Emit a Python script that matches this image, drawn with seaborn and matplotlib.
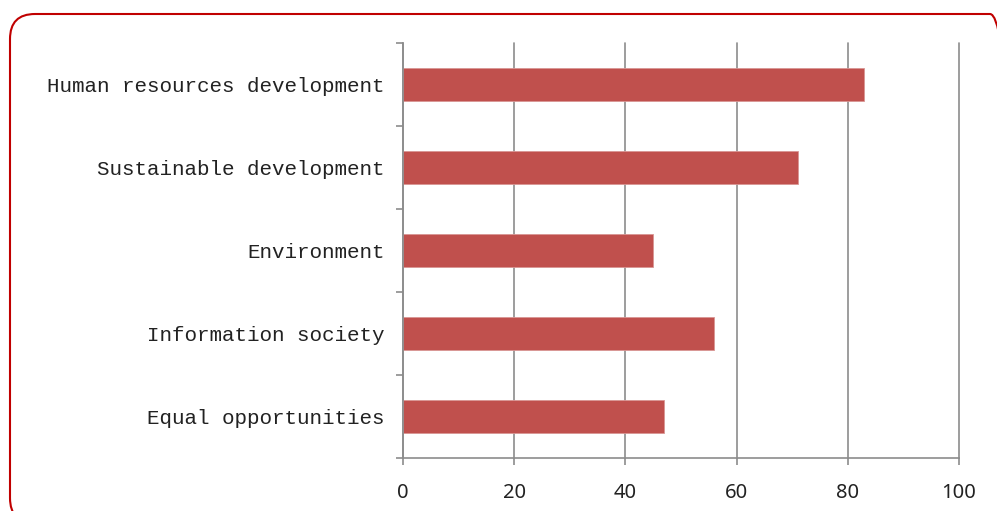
import matplotlib
matplotlib.use('Agg')
import pandas as pd
import seaborn as sns
import matplotlib.pyplot as plt
from matplotlib.patches import FancyBboxPatch

categories = ['Human resources development', 'Sustainable development', 'Environment',
              'Information society', 'Equal opportunities']
values = [83, 71, 45, 56, 47]
x_ticks = [0, 20, 40, 60, 80, 100]

df = pd.DataFrame({'area': categories, 'value': values})

sns.set_style('white')
grey = '#8c8c8c'

fig = plt.figure(figsize=(9.97, 5.11), dpi=100)
ax = fig.add_axes([0.4042, 0.1037, 0.9619 - 0.4042, 0.9159 - 0.1037])

sns.barplot(data=df, y='area', x='value', orient='h', color='#C0504D',
            width=0.4, saturation=1, edgecolor='#d99694', linewidth=0.6, ax=ax)

ax.set_xlim(0, 100)
ax.set_ylim(len(categories) - 0.5, -0.5)
ax.set_xticks(x_ticks)
ax.set_xticklabels([str(t) for t in x_ticks], fontsize=14.5, color='#222222',
                   family='Noto Sans')
ax.xaxis.grid(True, color=grey, linewidth=1.2)
ax.set_axisbelow(True)
for line in ax.get_xgridlines():
    line.set_clip_on(False)

# ticks at category boundaries, labels at category centres
ax.set_yticks([i - 0.5 for i in range(len(categories) + 1)])
ax.set_yticklabels([])
ax.set_yticks(range(len(categories)), minor=True)
ax.set_yticklabels(categories, minor=True, fontsize=15, color='#222222',
                   family='Liberation Mono')
ax.tick_params(axis='y', which='major', direction='out', length=5, width=1.2,
               color=grey, left=True)
ax.tick_params(axis='y', which='minor', length=0, pad=13)
ax.tick_params(axis='x', direction='out', length=5, width=1.2, color=grey,
               bottom=True, pad=13)

ax.set_xlabel('')
ax.set_ylabel('')
for side in ['top', 'right']:
    ax.spines[side].set_visible(False)
for side in ['left', 'bottom']:
    ax.spines[side].set_color(grey)
    ax.spines[side].set_linewidth(1.2)

# rounded red frame around the chart (inches)
frame = FancyBboxPatch((0.10, -0.12), 10.05, 5.09,
                       boxstyle='round,pad=0,rounding_size=0.25',
                       transform=fig.dpi_scale_trans, fill=False,
                       edgecolor='#C00000', linewidth=1.5, clip_on=False)
fig.add_artist(frame)

fig.savefig('out.png', dpi=100)
